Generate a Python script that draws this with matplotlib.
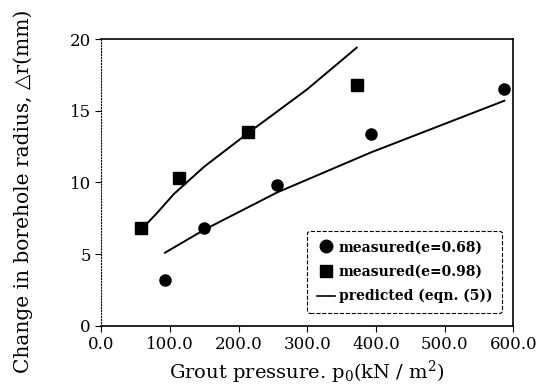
import matplotlib
matplotlib.use("Agg")
import matplotlib.pyplot as plt
from matplotlib.lines import Line2D

plt.rcParams['font.family'] = ['DejaVu Serif', 'DejaVu Sans']
plt.rcParams['mathtext.fontset'] = 'dejavuserif'

# measured points
p_e068 = [93, 150, 256, 393, 587]
dr_e068 = [3.2, 6.8, 9.85, 13.4, 16.5]
p_e098 = [58, 114, 214, 372]
dr_e098 = [6.8, 10.3, 13.5, 16.8]

# predicted curves (eqn. 5)
p_pred_098 = [58, 80, 106, 150, 214, 300, 372]
dr_pred_098 = [6.7, 7.8, 9.2, 11.1, 13.45, 16.5, 19.4]
p_pred_068 = [93, 150, 256, 393, 587]
dr_pred_068 = [5.1, 6.7, 9.3, 12.1, 15.7]

xticks = [0, 100, 200, 300, 400, 500, 600]
xtick_labels = ["0.0", "100.0", "200.0", "300.0", "400.0", "500.0", "600.0"]
yticks = [0, 5, 10, 15, 20]

fig = plt.figure(figsize=(5.38, 3.87), dpi=100)
ax = fig.add_axes([0.188, 0.158, 0.766, 0.741])

ax.plot(p_pred_098, dr_pred_098, color="black", lw=1.4)
ax.plot(p_pred_068, dr_pred_068, color="black", lw=1.4)
ax.plot(p_e068, dr_e068, "o", color="black", ms=8)
ax.plot(p_e098, dr_e098, "s", color="black", ms=8)

ax.set_xlim(0, 600)
ax.set_ylim(0, 20)
ax.set_xticks(xticks)
ax.set_xticklabels(xtick_labels)
ax.set_yticks(yticks)
ax.tick_params(axis="both", labelsize=12, direction="out", length=4, width=0.8)
ax.spines["left"].set_linestyle(":")
ax.spines["left"].set_linewidth(0.8)
for s in ["top", "bottom", "right"]:
    ax.spines[s].set_linewidth(1.2)

ax.set_xlabel(r"Grout pressure. p$_0$(kN / m$^2$)", fontsize=14)
ax.set_ylabel("Change in borehole radius, △r(mm)", fontsize=14.5)
ax.yaxis.set_label_coords(-0.165, 0.47)

handles = [
    Line2D([], [], marker="o", color="black", ls="none", ms=9),
    Line2D([], [], marker="s", color="black", ls="none", ms=9),
    Line2D([], [], color="black", lw=1.2),
]
labels = ["measured(e=0.68)", "measured(e=0.98)", "predicted (eqn. (5))"]
leg = ax.legend(handles, labels, loc="lower right",
                prop={"size": 10, "weight": "bold"},
                handlelength=1.3, handletextpad=0.3, borderpad=0.7,
                labelspacing=0.75, fancybox=True, framealpha=1,
                bbox_to_anchor=(0.99, 0.02))
leg.get_frame().set_edgecolor("black")
leg.get_frame().set_linestyle("--")
leg.get_frame().set_linewidth(0.8)

fig.savefig("out.png", dpi=100)
